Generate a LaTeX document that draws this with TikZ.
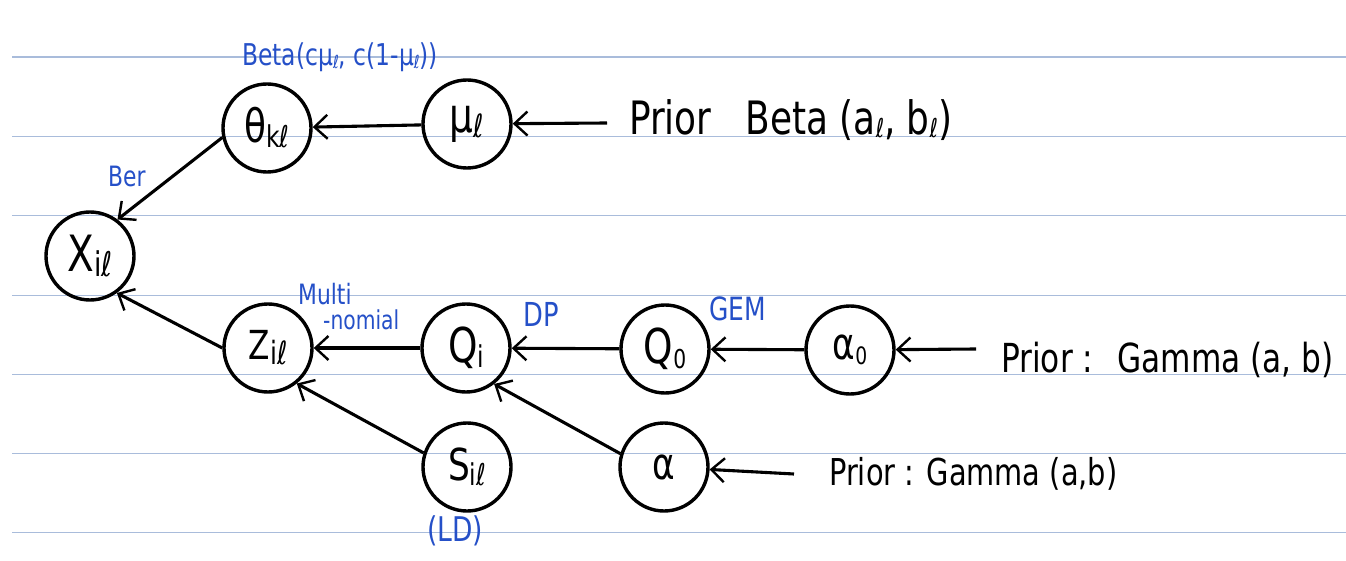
\documentclass[tikz,border=0pt]{standalone}
\usepackage{fontspec}
\setmainfont{DejaVu Sans}[FakeStretch=0.78]
\usetikzlibrary{arrows.meta}
\definecolor{rule}{HTML}{A9BCDB}
\definecolor{ink}{HTML}{2550C8}
\newcommand\fs[1]{\fontsize{#1}{#1}\selectfont}
\newcommand\nlab[4]{{\fs{#1}#2}\raisebox{-5pt}{\fs{#3}#4}}
\newcommand\lsb[2]{\raisebox{-3pt}{\fs{#1}#2}}
\begin{document}
\begin{tikzpicture}[x=1pt,y=-1pt,
  var/.style={draw,circle,line width=3.4pt,minimum size=88pt,inner sep=0pt},
  arr/.style={line width=3.1pt,-{Straight Barb[length=13pt,width=24pt,line width=2.4pt]}},
  lab/.style={text=ink,inner sep=0pt},
  prior/.style={inner sep=0pt,anchor=base west}]
\useasboundingbox (0,0) rectangle (1346,561);
\fill[white] (0,0) rectangle (1346,561);
% ruled lines
\foreach \y in {57.2,136.3,215.4,295.2,374.2,453.3,532.4}
  \draw[rule,line width=1.4pt] (12,\y) -- (1346,\y);
% nodes
\node[var] (X) at (90,256) {\nlab{50}{X}{34}{iℓ}};
\node[var] (theta) at (267,128) {\nlab{46}{θ}{30}{kℓ}};
\node[var] (mu) at (467,124) {\nlab{48}{μ}{32}{ℓ}};
\node[var] (Z) at (268,348) {\nlab{40}{Z}{32}{iℓ}};
\node[var] (Qi) at (466,348) {\nlab{48}{Q}{30}{i}};
\node[var] (Q0) at (665,349) {\nlab{48}{Q}{26}{0}};
\node[var] (a0) at (850,350) {\nlab{44}{α}{24}{0}};
\node[var] (S) at (467,467) {\nlab{44}{S}{30}{iℓ}};
\node[var] (a) at (664,467) {{\fs{44}α}};
% free ends of the prior arrows
\coordinate (pmu) at (607,123);
\coordinate (pa0) at (976,349);
\coordinate (pa) at (794,474);
% connectors
\draw[arr] (pmu) -- (mu);
\draw[arr] (mu) -- (theta);
\draw[arr] (theta.192) -- (X.53);
\draw[arr] (Z.180) -- (X.306);
\draw[arr] (Qi) -- (Z);
\draw[arr] (Q0) -- (Qi);
\draw[arr] (a0) -- (Q0);
\draw[arr] (pa0) -- (a0);
\draw[arr] (S.162) -- (Z.309);
\draw[arr] (a.163) -- (Qi.308);
\draw[arr] (pa) -- (a);
% prior texts
\node[prior] (t1) at (629,135) {\fs{46}Prior\hspace{34pt}Beta (a\lsb{26}{ℓ}, b\lsb{26}{ℓ})};
\node[prior] (t2) at (1001,372) {\fs{40}Prior :\hspace{24pt}Gamma (a, b)};
\node[prior] (t3) at (829,485) {\fs{37}Prior : Gamma (a,b)};
% blue labels
\node[lab,anchor=base west] (lbeta) at (242,66) {\fs{30}Beta(cμ\lsb{18}{ℓ}, c(1-μ\lsb{18}{ℓ}))};
\node[lab,anchor=base west] (lber) at (108,187) {\fs{28}Ber};
\node[lab,anchor=base west] (lmul) at (298,304) {\fs{28}Multi};
\node[lab,anchor=base west] (lnom) at (323,329) {\fs{26}-nomial};
\node[lab,anchor=base west] (ldp) at (523,326) {\fs{33}DP};
\node[lab,anchor=base west] (lgem) at (709,320) {\fs{32}GEM};
\node[lab,anchor=base west] (lld) at (427,541) {\fs{34}(LD)};
\end{tikzpicture}
\end{document}
